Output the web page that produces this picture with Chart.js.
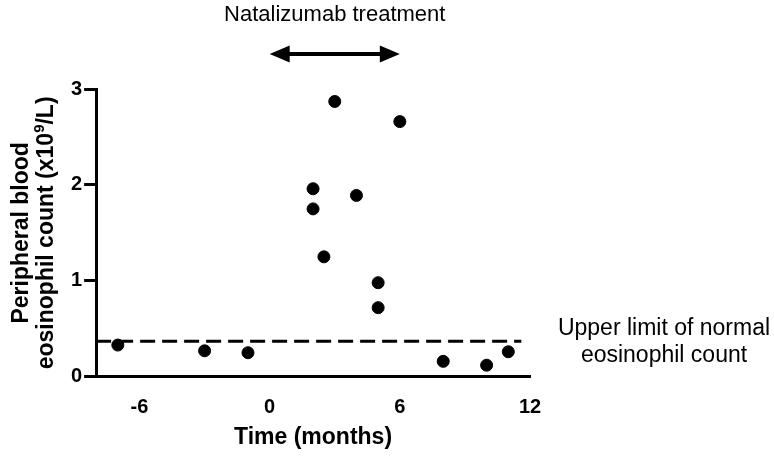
<!DOCTYPE html>
<html>
<head>
<meta charset="utf-8">
<script src="https://cdn.jsdelivr.net/npm/chart.js@4.4.0/dist/chart.umd.min.js"></script>
<style>
  html, body { margin: 0; padding: 0; background: #fff; }
  #wrap { width: 774px; height: 457px; }
</style>
</head>
<body>
<div id="wrap"><canvas id="eosinophils"></canvas></div>
<script>
// months relative to natalizumab start, and eosinophil counts (x10^9/L)
const months = [-7, -3, -1, 2, 2, 2.5, 3, 4, 5, 5, 6, 8, 10, 11];
const counts = [0.33, 0.27, 0.25, 1.96, 1.75, 1.25, 2.87, 1.89, 0.98, 0.72, 2.66, 0.16, 0.12, 0.26];

const xTicks = [-6, 0, 6, 12];
const yTicks = [0, 1, 2, 3];

// upper limit of normal
const limitX = [-8, 11.6];
const limitY = 0.37;

// treatment window (months)
const treatment = [0, 6];

const FONT = '"Liberation Sans", Arial, sans-serif';

const annotations = {
    id: 'annotations',
    afterDraw(chart) {
        const c = chart.ctx;
        const x = chart.scales.x;
        const area = chart.chartArea;
        const x0 = x.getPixelForValue(treatment[0]);
        const x1 = x.getPixelForValue(treatment[1]);
        const ay = 54;
        const head = 20;

        c.save();
        c.fillStyle = '#000';
        c.strokeStyle = '#000';

        // double arrow
        c.lineWidth = 4;
        c.beginPath();
        c.moveTo(x0 + head - 2, ay);
        c.lineTo(x1 - head + 2, ay);
        c.stroke();
        c.beginPath();
        c.moveTo(x0, ay);
        c.lineTo(x0 + head, ay - 8.5);
        c.lineTo(x0 + head, ay + 8.5);
        c.closePath();
        c.fill();
        c.beginPath();
        c.moveTo(x1, ay);
        c.lineTo(x1 - head, ay - 8.5);
        c.lineTo(x1 - head, ay + 8.5);
        c.closePath();
        c.fill();

        c.textAlign = 'center';
        c.textBaseline = 'middle';
        c.font = '22px ' + FONT;
        c.fillText('Natalizumab treatment', (x0 + x1) / 2, 15);

        c.font = '23px ' + FONT;
        const rx = area.right + 134;
        c.fillText('Upper limit of normal', rx, 329);
        c.fillText('eosinophil count', rx, 356);

        // y axis title, with superscript
        const cy = (area.top + area.bottom) / 2;
        c.translate(0, cy);
        c.rotate(-Math.PI / 2);
        c.font = 'bold 23px ' + FONT;
        c.fillText('Peripheral blood', 0, 22);

        const a = 'eosinophil count (x10', b = '9', d = '/L)';
        c.textAlign = 'left';
        const wa = c.measureText(a).width, wd = c.measureText(d).width;
        c.font = 'bold 15px ' + FONT;
        const wb = c.measureText(b).width;
        let px = -(wa + wb + wd) / 2;
        c.font = 'bold 23px ' + FONT;
        c.fillText(a, px, 47);
        px += wa;
        c.font = 'bold 15px ' + FONT;
        c.fillText(b, px, 40);
        px += wb;
        c.font = 'bold 23px ' + FONT;
        c.fillText(d, px, 47);
        c.restore();
    }
};

new Chart(document.getElementById('eosinophils'), {
    type: 'scatter',
    data: {
        datasets: [{
            label: 'Eosinophils',
            data: months.map((m, i) => ({x: m, y: counts[i]})),
            backgroundColor: '#000',
            borderColor: '#000',
            pointRadius: 6,
            pointHoverRadius: 6,
            order: 1
        }, {
            type: 'line',
            label: 'Upper limit of normal',
            data: limitX.map(v => ({x: v, y: limitY})),
            borderColor: '#000',
            borderWidth: 3,
            borderDash: [15, 7],
            pointRadius: 0,
            fill: false,
            order: 0
        }]
    },
    plugins: [annotations],
    options: {
        responsive: true,
        maintainAspectRatio: false,
        animation: false,
        layout: {
            padding: {top: 89, right: 244, left: 69, bottom: 7}
        },
        plugins: {
            legend: {display: false},
            tooltip: {enabled: false}
        },
        scales: {
            x: {
                type: 'linear',
                min: -8,
                max: 12,
                afterBuildTicks: axis => { axis.ticks = xTicks.map(v => ({value: v})); },
                grid: {display: false},
                border: {display: true, color: '#000', width: 3},
                ticks: {
                    color: '#000',
                    padding: 11,
                    font: {family: FONT, size: 20, weight: 'bold'}
                },
                title: {
                    display: true,
                    text: 'Time (months)',
                    color: '#000',
                    padding: {top: -6, bottom: 0},
                    font: {family: FONT, size: 23, weight: 'bold', lineHeight: 1.1}
                }
            },
            y: {
                type: 'linear',
                min: 0,
                max: 3,
                afterBuildTicks: axis => { axis.ticks = yTicks.map(v => ({value: v})); },
                grid: {
                    display: true,
                    drawOnChartArea: false,
                    drawTicks: true,
                    tickLength: 12,
                    tickWidth: 3,
                    color: '#000'
                },
                border: {display: true, color: '#000', width: 3},
                ticks: {
                    color: '#000',
                    padding: 2,
                    font: {family: FONT, size: 20, weight: 'bold'}
                },
                title: {display: false}
            }
        }
    }
});
</script>
</body>
</html>
